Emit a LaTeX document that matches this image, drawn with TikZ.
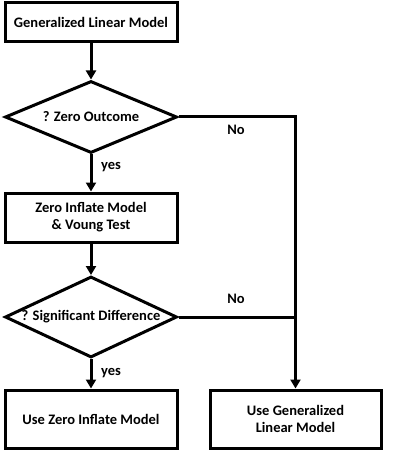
\documentclass[tikz,border=0pt]{standalone}
\usepackage{fontspec}
\setmainfont{Carlito}
\usetikzlibrary{shapes.geometric,arrows.meta}
\begin{document}
\begin{tikzpicture}[x=1pt,y=-1pt,
  every node/.style={font=\fontsize{14.5}{17}\selectfont\bfseries},
  boxnode/.style={draw,line width=3pt,rectangle,minimum width=172pt,inner sep=0pt,align=center},
  decnode/.style={draw,line width=3pt,diamond,minimum width=172pt,inner sep=0pt},
  txt/.style={inner sep=0pt,align=center},
  conn/.style={line width=3pt},
  arr/.style={line width=3pt,-{Triangle[length=9pt,width=10pt]}}]
\useasboundingbox (0,0) rectangle (400,457);
\node[boxnode,minimum height=39pt] (b1) at (91,22.5) {Generalized Linear Model};
\node[decnode,minimum height=72pt] (d1) at (91,117) {};
\node[txt] (t1) at (91,117) {? Zero Outcome};
\node[boxnode,minimum height=49pt] (b2) at (91,217.5) {Zero Inflate Model\\\& Voung Test};
\node[decnode,minimum height=81pt] (d2) at (91,317) {};
\node[txt] (t2) at (91,317) {? Significant Difference};
\node[boxnode,minimum height=58pt] (b3) at (91,419) {Use Zero Inflate Model};
\node[boxnode,minimum height=58pt,minimum width=171pt] (b4) at (295.5,419) {Use Generalized\\Linear Model};
\coordinate (j) at (295.5,317);
\draw[arr] (b1.south) -- (d1.north);
\draw[arr] (d1.south) -- (b2.north);
\draw[arr] (b2.south) -- (d2.north);
\draw[arr] (d2.south) -- (b3.north);
\draw[arr] (d1.east) -| (b4.north);
\draw[conn] (d2.east) -- (j);
\node[txt] (n1) at (236,130) {No};
\node[txt] (n2) at (236,299) {No};
\node[txt] (y1) at (111,167) {yes};
\node[txt] (y2) at (111,373) {yes};
\end{tikzpicture}
\end{document}
